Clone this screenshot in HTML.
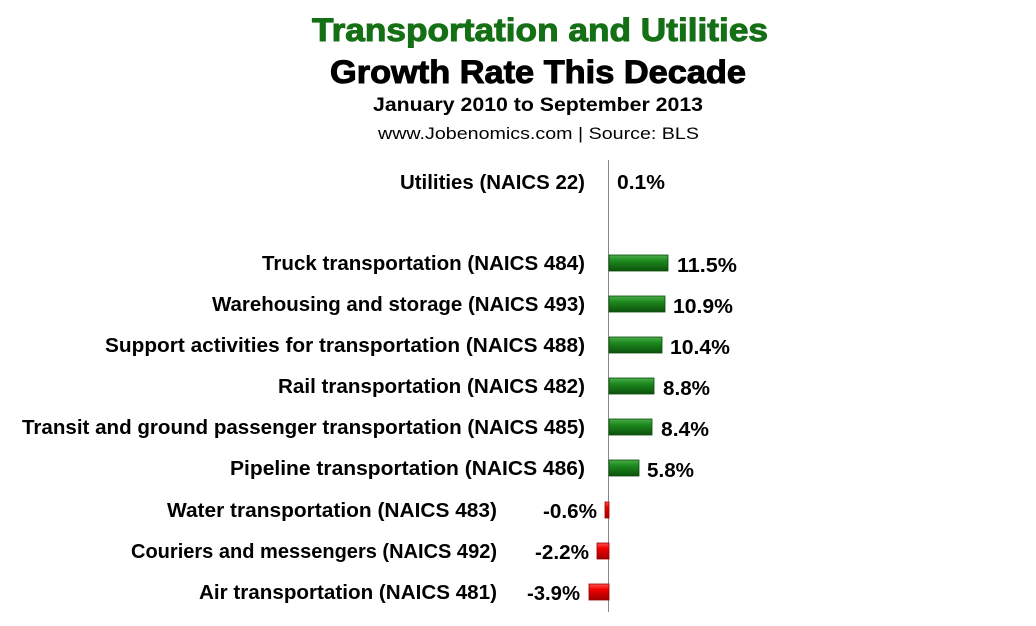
<!DOCTYPE html><html><head><style>body{margin:0;background:#fff}svg{display:block}text{font-family:"Liberation Sans",sans-serif;font-weight:bold}</style></head><body>
<svg width="1036" height="626" viewBox="0 0 1036 626">
<defs>
<linearGradient id="g" x1="0" y1="0" x2="0" y2="1"><stop offset="0" stop-color="#4caf4c"/><stop offset="0.35" stop-color="#1e8a1e"/><stop offset="1" stop-color="#0c520c"/></linearGradient>
<linearGradient id="r" x1="0" y1="0" x2="0" y2="1"><stop offset="0" stop-color="#ff5050"/><stop offset="0.35" stop-color="#ee0000"/><stop offset="1" stop-color="#a00000"/></linearGradient>
</defs>
<text x="312" y="41" font-size="32" fill="#157015" stroke="#157015" stroke-width="1" textLength="456" lengthAdjust="spacingAndGlyphs">Transportation and Utilities</text>
<text x="330" y="83" font-size="32" fill="#000" stroke="#000" stroke-width="1" textLength="416" lengthAdjust="spacingAndGlyphs">Growth Rate This Decade</text>
<text x="373" y="111" font-size="19" fill="#000" textLength="330" lengthAdjust="spacingAndGlyphs">January  2010 to September 2013</text>
<text x="378" y="139" font-size="17" style="font-weight:normal" fill="#000" textLength="321" lengthAdjust="spacingAndGlyphs">www.Jobenomics.com  |  Source: BLS</text>
<line x1="608.5" y1="160" x2="608.5" y2="612" stroke="#888" stroke-width="1"/>
<g font-size="20" fill="#000">
<text x="400" y="189" textLength="185" lengthAdjust="spacingAndGlyphs">Utilities (NAICS 22)</text>
<text x="617" y="189" textLength="48" lengthAdjust="spacingAndGlyphs">0.1%</text>
<text x="262" y="270" textLength="323" lengthAdjust="spacingAndGlyphs">Truck transportation (NAICS 484)</text>
<text x="677" y="272" textLength="60" lengthAdjust="spacingAndGlyphs">11.5%</text>
<text x="212" y="311" textLength="373" lengthAdjust="spacingAndGlyphs">Warehousing and storage (NAICS 493)</text>
<text x="673" y="313" textLength="60" lengthAdjust="spacingAndGlyphs">10.9%</text>
<text x="105" y="352" textLength="480" lengthAdjust="spacingAndGlyphs">Support activities for transportation (NAICS 488)</text>
<text x="670" y="354" textLength="60" lengthAdjust="spacingAndGlyphs">10.4%</text>
<text x="278" y="393" textLength="307" lengthAdjust="spacingAndGlyphs">Rail transportation (NAICS 482)</text>
<text x="663" y="395" textLength="47" lengthAdjust="spacingAndGlyphs">8.8%</text>
<text x="22" y="434" textLength="563" lengthAdjust="spacingAndGlyphs">Transit and ground passenger transportation (NAICS 485)</text>
<text x="661" y="436" textLength="48" lengthAdjust="spacingAndGlyphs">8.4%</text>
<text x="230" y="475" textLength="355" lengthAdjust="spacingAndGlyphs">Pipeline  transportation (NAICS 486)</text>
<text x="647" y="477" textLength="47" lengthAdjust="spacingAndGlyphs">5.8%</text>
<text x="167" y="517" textLength="330" lengthAdjust="spacingAndGlyphs">Water transportation (NAICS 483)</text>
<text x="543" y="518" textLength="54" lengthAdjust="spacingAndGlyphs">-0.6%</text>
<text x="131" y="558" textLength="366" lengthAdjust="spacingAndGlyphs">Couriers and messengers (NAICS 492)</text>
<text x="535" y="559" textLength="54" lengthAdjust="spacingAndGlyphs">-2.2%</text>
<text x="199" y="599" textLength="298" lengthAdjust="spacingAndGlyphs">Air transportation (NAICS 481)</text>
<text x="527" y="600" textLength="53" lengthAdjust="spacingAndGlyphs">-3.9%</text>
</g>
<g stroke="#0a4a0a" stroke-width="0.8">
<rect x="609" y="255" width="59" height="16" fill="url(#g)"/>
<rect x="609" y="296" width="56" height="16" fill="url(#g)"/>
<rect x="609" y="337" width="53" height="16" fill="url(#g)"/>
<rect x="609" y="378" width="45" height="16" fill="url(#g)"/>
<rect x="609" y="419" width="43" height="16" fill="url(#g)"/>
<rect x="609" y="460" width="30" height="16" fill="url(#g)"/>
</g>
<g stroke="#900" stroke-width="0.8">
<rect x="605" y="502" width="4" height="16" fill="url(#r)"/>
<rect x="597" y="543" width="12" height="16" fill="url(#r)"/>
<rect x="589" y="584" width="20" height="16" fill="url(#r)"/>
</g>
</svg></body></html>
